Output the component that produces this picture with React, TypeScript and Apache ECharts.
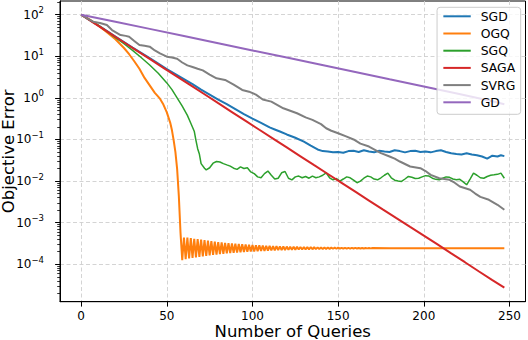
import React, { useEffect, useRef } from "react";
import * as echarts from "echarts";

const seriesNames = ["SGD", "OGQ", "SGQ", "SAGA", "SVRG", "GD"];
const seriesColors = ["#1f77b4", "#ff7f0e", "#2ca02c", "#d62728", "#7f7f7f", "#9467bd"];
const xTicks = [0, 50, 100, 150, 200, 250];
const yTickExponents = [-4, -3, -2, -1, 0, 1, 2];

const sgd: [number, number][] = [
  [0, 100], [10, 55.0], [20, 29.9], [30, 16.2], [40, 9.02], [50, 4.9], [60, 2.82], [65, 2.14], [70, 1.58],
  [75, 1.2], [80, 0.912], [85, 0.708], [90, 0.537], [95, 0.407], [100, 0.316], [105, 0.251], [110, 0.195],
  [113, 0.174], [116, 0.155], [120, 0.132], [125, 0.11], [130, 0.0891], [134, 0.0708], [138, 0.0575],
  [141, 0.0525], [144, 0.0513], [147, 0.049], [150, 0.0501], [153, 0.0479], [156, 0.0525], [159, 0.0537],
  [162, 0.0501], [165, 0.055], [168, 0.0513], [171, 0.049], [174, 0.0537], [177, 0.0513], [180, 0.0501],
  [183, 0.055], [186, 0.0525], [189, 0.049], [192, 0.0525], [195, 0.0537], [198, 0.0501], [201, 0.0513],
  [204, 0.049], [207, 0.0525], [210, 0.055], [213, 0.0501], [216, 0.0468], [219, 0.0447], [222, 0.0437],
  [225, 0.0468], [228, 0.0437], [231, 0.0417], [234, 0.0389], [237, 0.0347], [240, 0.0407], [243, 0.0389],
  [245, 0.0417], [247, 0.0398],
];

const ogq: [number, number][] = [
  [0, 100], [5, 75.9], [10, 55.0], [15, 38.0], [20, 25.7], [25, 15.8], [28, 11.2], [31, 7.59], [34, 5.01],
  [37, 3.02], [40, 2.0], [43, 1.32], [46, 0.955], [48, 0.69], [50, 0.447], [52, 0.251], [53, 0.166],
  [54, 0.095], [55, 0.0501], [56, 0.02], [57, 4.47e-3], [58, 5.62e-4], [59, 1.26e-4],
  [60, 4.4e-4], [61, 1.33e-4], [62, 4.4e-4], [63, 1.38e-4], [64, 4.25e-4], [65, 1.42e-4], [66, 4.1e-4],
  [67, 1.47e-4], [68, 4.0e-4], [69, 1.5e-4], [70, 3.9e-4], [71, 1.55e-4], [72, 3.8e-4], [73, 1.58e-4],
  [74, 3.7e-4], [75, 1.63e-4], [76, 3.6e-4], [77, 1.67e-4], [78, 3.5e-4], [79, 1.71e-4], [80, 3.42e-4],
  [81, 1.75e-4], [82, 3.35e-4], [83, 1.79e-4], [84, 3.28e-4], [85, 1.82e-4], [86, 3.22e-4], [87, 1.85e-4],
  [88, 3.16e-4], [89, 1.88e-4], [90, 3.11e-4], [91, 1.91e-4], [92, 3.06e-4], [93, 1.94e-4], [94, 3.02e-4],
  [95, 1.97e-4], [96, 2.98e-4], [97, 1.99e-4], [98, 2.94e-4], [99, 2.02e-4], [100, 2.91e-4], [101, 2.04e-4],
  [102, 2.88e-4], [103, 2.06e-4], [104, 2.85e-4], [105, 2.08e-4], [106, 2.82e-4], [107, 2.1e-4],
  [108, 2.79e-4], [109, 2.12e-4], [110, 2.77e-4], [111, 2.14e-4], [112, 2.74e-4], [113, 2.16e-4],
  [114, 2.72e-4], [115, 2.18e-4], [116, 2.7e-4], [117, 2.19e-4], [118, 2.68e-4], [119, 2.21e-4],
  [120, 2.66e-4], [121, 2.22e-4], [122, 2.65e-4], [123, 2.24e-4], [124, 2.63e-4], [125, 2.25e-4],
  [126, 2.62e-4], [127, 2.26e-4], [128, 2.6e-4], [129, 2.27e-4], [130, 2.59e-4], [131, 2.28e-4],
  [132, 2.58e-4], [133, 2.29e-4], [134, 2.57e-4], [135, 2.3e-4], [136, 2.56e-4], [137, 2.31e-4],
  [138, 2.55e-4], [139, 2.32e-4], [140, 2.54e-4], [141, 2.33e-4], [142, 2.53e-4], [143, 2.34e-4],
  [144, 2.52e-4], [145, 2.35e-4], [146, 2.51e-4], [147, 2.36e-4], [148, 2.5e-4], [149, 2.36e-4],
  [150, 2.5e-4], [151, 2.37e-4], [152, 2.49e-4], [153, 2.37e-4], [154, 2.49e-4], [155, 2.38e-4],
  [156, 2.48e-4], [157, 2.38e-4], [158, 2.48e-4], [159, 2.39e-4], [160, 2.47e-4], [161, 2.39e-4],
  [162, 2.47e-4], [163, 2.4e-4], [164, 2.46e-4], [165, 2.4e-4], [166, 2.46e-4], [167, 2.41e-4],
  [168, 2.45e-4], [169, 2.41e-4], [170, 2.45e-4], [180, 2.43e-4], [200, 2.43e-4], [220, 2.43e-4],
  [247, 2.43e-4],
];

const sgq: [number, number][] = [
  [0, 100], [5, 74.1], [10, 55.0], [15, 39.8], [20, 28.2], [25, 20.0], [30, 13.8], [35, 9.33], [40, 6.17],
  [45, 3.89], [50, 2.29], [53, 1.58], [56, 1.0], [59, 0.631], [62, 0.38], [64, 0.245], [66, 0.158],
  [67, 0.0955], [68, 0.06], [69, 0.0447], [70, 0.0263], [72, 0.0204], [73, 0.0186], [75, 0.0209],
  [77, 0.0269], [79, 0.0295], [81, 0.0288], [83, 0.0263], [85, 0.0245], [87, 0.0229], [89, 0.0204],
  [91, 0.0191], [93, 0.0219], [95, 0.02], [97, 0.0209], [99, 0.0166], [101, 0.0151], [103, 0.0126],
  [105, 0.012], [107, 0.0151], [109, 0.0174], [111, 0.0138], [113, 0.0112], [115, 0.0117], [117, 0.0158],
  [119, 0.017], [121, 0.0117], [123, 0.0107], [125, 0.0126], [127, 0.0132], [129, 0.012], [131, 0.0129],
  [133, 0.0117], [135, 0.0132], [137, 0.012], [139, 0.0126], [141, 0.0138], [143, 0.0158], [145, 0.012],
  [147, 0.0107], [149, 0.0115], [151, 0.01], [153, 0.0112], [155, 0.0126], [157, 0.012], [159, 0.0105],
  [161, 0.00912], [163, 0.01], [165, 0.0117], [167, 0.0132], [169, 0.0126], [171, 0.0112], [173, 0.0107],
  [175, 0.012], [177, 0.0138], [179, 0.0155], [181, 0.012], [183, 0.0105], [185, 0.01], [187, 0.00977],
  [189, 0.0112], [191, 0.0129], [193, 0.0123], [195, 0.0115], [197, 0.0117], [199, 0.0126], [201, 0.0135],
  [203, 0.0132], [205, 0.0117], [207, 0.011], [209, 0.0107], [211, 0.0117], [213, 0.0126], [215, 0.0123],
  [217, 0.0112], [219, 0.0107], [221, 0.011], [223, 0.00955], [225, 0.00813], [227, 0.0112], [229, 0.0155],
  [231, 0.0138], [233, 0.012], [235, 0.0117], [237, 0.0129], [239, 0.0138], [241, 0.0141], [243, 0.0145],
  [245, 0.0155], [247, 0.0117],
];

const saga: [number, number][] = [
  [0, 100], [8, 61.2], [16, 37.5], [24, 23.0], [32, 14.1], [40, 8.63], [48, 5.28], [56, 3.24], [64, 1.99],
  [72, 1.22], [80, 0.745], [88, 0.456], [96, 0.279], [104, 0.171], [112, 0.105], [120, 0.0643],
  [128, 0.0394], [136, 0.0241], [144, 0.0148], [152, 9.06e-3], [160, 5.55e-3], [168, 3.4e-3],
  [176, 2.08e-3], [184, 1.28e-3], [192, 7.9e-4], [200, 4.9e-4], [208, 3.0e-4], [216, 1.83e-4],
  [224, 1.12e-4], [232, 6.8e-5], [240, 4.15e-5], [247, 2.75e-5],
];

const svrg: [number, number][] = [
  [0, 100], [4, 79.4], [7, 67.6], [11, 63.1], [15, 56.2], [18, 42.7], [23, 32.4], [26, 30.9], [28, 29.5],
  [31, 23.4], [34, 18.6], [37, 17.8], [40, 17.0], [43, 13.8], [46, 11.7], [50, 9.77], [53, 9.33],
  [56, 8.71], [59, 7.08], [62, 6.03], [65, 5.5], [68, 5.01], [71, 4.57], [75, 3.63], [79, 2.95],
  [84, 2.69], [89, 2.09], [94, 1.55], [98, 1.41], [102, 1.2], [106, 0.912], [111, 0.813], [118, 0.562],
  [122, 0.49], [126, 0.427], [131, 0.339], [135, 0.295], [140, 0.234], [143, 0.186], [146, 0.162],
  [150, 0.141], [155, 0.117], [159, 0.1], [163, 0.0794], [168, 0.0676], [172, 0.055], [175, 0.0468],
  [180, 0.0389], [183, 0.0347], [186, 0.0295], [192, 0.0224], [198, 0.0204], [201, 0.0174],
  [204, 0.0141], [209, 0.0117], [215, 0.0107], [218, 0.00912], [221, 0.00741], [227, 0.00617],
  [230, 0.00501], [233, 0.00417], [238, 0.00355], [243, 0.00269], [247, 0.00204],
];

const gd: [number, number][] = [
  [0, 100], [20, 67.5], [40, 45.5], [60, 30.6], [80, 20.5], [100, 13.8], [120, 9.3], [140, 6.25],
  [160, 4.2], [180, 2.8], [200, 1.88], [220, 1.26], [240, 0.83], [247, 0.7],
];

const allSeries = [sgd, ogq, sgq, saga, svrg, gd];
const lineWidths = [2, 2, 1.5, 2, 2, 2];

const FONT = "DejaVu Sans";

export default function App() {
  const ref = useRef<HTMLDivElement>(null);

  useEffect(() => {
    if (!ref.current) return;
    const chart = echarts.init(ref.current, undefined, { renderer: "svg" });

    const yMin = -4.9;
    const yMax = 2.3285;
    const minorTicks: number[] = [];
    for (let n = -5; n <= 2; n++) {
      for (let k = 2; k <= 9; k++) {
        const v = n + Math.log10(k);
        if (v > yMin && v < yMax) minorTicks.push(v);
      }
    }

    const fmtExp = (val: number) => {
      const e = Math.round(val);
      const s = e < 0 ? "\u2212" + String(-e) : String(e);
      return `{b|10}{s|${s}}`;
    };

    const gridLine = { show: true, lineStyle: { color: "#cfcfcf", width: 0.9, type: [4, 2.5] as any } };

    chart.setOption({
      animation: false,
      grid: {
        left: 60,
        right: 2.5,
        top: 1,
        bottom: 38.3,
        containLabel: false,
        outerBoundsMode: "none",
        show: true,
        borderColor: "#000",
        borderWidth: 1,
        backgroundColor: "transparent",
      },
      legend: {
        orient: "vertical",
        right: 7.3,
        top: 7.3,
        padding: [3, 5.4, 6, 5.3],
        itemWidth: 27.4,
        itemHeight: 14,
        itemGap: 5.2,
        itemStyle: { opacity: 0 },
        backgroundColor: "rgba(255,255,255,0.8)",
        borderColor: "#cccccc",
        borderWidth: 1,
        borderRadius: 3,
        textStyle: { fontFamily: FONT, fontSize: 12.4, color: "#000", padding: [0, 0, 0, 5] },
        data: seriesNames,
      },
      xAxis: {
        type: "value",
        min: -12.35,
        max: 259.35,
        name: "Number of Queries",
        nameLocation: "middle",
        nameGap: 21,
        nameMoveOverlap: false,
        nameTextStyle: { fontFamily: FONT, fontSize: 16.5, color: "#000" },
        axisLine: { show: true, onZero: false, lineStyle: { color: "#000", width: 1 } },
        axisTick: { show: true, inside: false, length: 4.9, customValues: xTicks, lineStyle: { color: "#000", width: 1 } },
        axisLabel: { customValues: xTicks, margin: 8, fontFamily: FONT, fontSize: 12, color: "#000" },
        splitLine: gridLine,
      },
      yAxis: [
        {
          type: "value",
          min: yMin,
          max: yMax,
          name: "Objective Error",
          nameLocation: "middle",
          nameGap: 43,
          nameMoveOverlap: false,
          nameTextStyle: { fontFamily: FONT, fontSize: 16.5, color: "#000" },
          axisLine: { show: true, onZero: false, lineStyle: { color: "#000", width: 1 } },
          axisTick: { show: true, inside: false, length: 4.9, customValues: yTickExponents, lineStyle: { color: "#000", width: 1 } },
          axisLabel: {
            customValues: yTickExponents,
            margin: 16,
            formatter: fmtExp,
            rich: {
              b: { fontFamily: FONT, fontSize: 12, color: "#000" },
              s: { fontFamily: FONT, fontSize: 8.5, color: "#000", padding: [0, 0, 9, 0] },
            },
          },
          splitLine: gridLine,
        },
        {
          type: "value",
          min: yMin,
          max: yMax,
          position: "left",
          axisLine: { show: false, onZero: false },
          axisTick: { show: true, inside: false, length: 2.8, customValues: minorTicks, lineStyle: { color: "#000", width: 0.8 } },
          axisLabel: { show: false, customValues: minorTicks },
          splitLine: { show: false },
        },
      ],
      series: allSeries.map((pts, i) => ({
        name: seriesNames[i],
        type: "line",
        yAxisIndex: 0,
        symbol: "none",
        showSymbol: false,
        color: seriesColors[i],
        lineStyle: { color: seriesColors[i], width: lineWidths[i] },
        data: pts.map(([x, v]) => [x, Math.log10(v)]),
        z: 2 + i * 0.01,
      })),
    });

    return () => chart.dispose();
  }, []);

  return (
    <div
      ref={ref}
      style={{ position: "fixed", left: 0, top: 0, width: 528, height: 340, background: "#fff" }}
    />
  );
}
